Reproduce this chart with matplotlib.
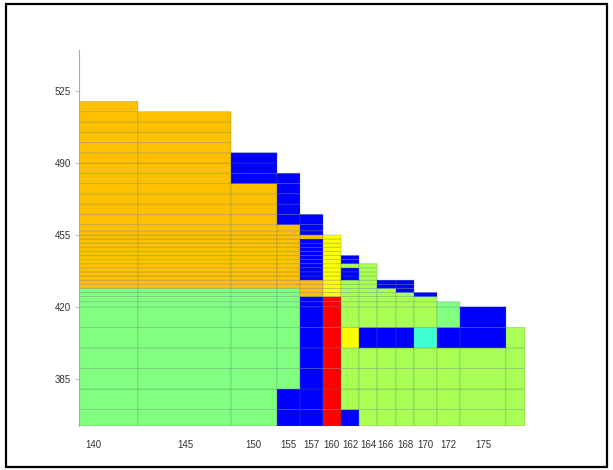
import matplotlib
matplotlib.use('Agg')
import matplotlib.pyplot as plt
import numpy as np
from matplotlib.colors import ListedColormap
from matplotlib.patches import Rectangle

# column edges (the x axis is not linear, so plain units are used) and labels
x_edges = [0, 59, 152, 198, 221, 244, 262, 280, 298, 317, 335, 358, 381, 427, 446]
x_ticks = [14, 106.5, 174, 209, 232, 252, 271, 289, 307, 326, 346.5, 369, 404]
x_labels = ['140', '145', '150', '155', '157', '160', '162', '164', '166', '168', '170', '172', '175']

y_edges = [362, 370, 380, 390, 400, 410, 420, 422.5, 425, 427, 429, 431, 433, 435, 437,
           439, 441, 443, 445, 447, 449, 451, 453, 455, 457, 460, 465, 470, 475, 480,
           485, 490, 495, 500, 505, 510, 515, 520]
y_ticks = [385, 420, 455, 490, 525]

# colour codes
BLUE, CYAN, GREEN, LIME, YELLOW, ORANGE, RED = range(7)
colors = ['#0000ff', '#40ffd0', '#80ff80', '#aaff55', '#ffff00', '#ffc000', '#ff0000']

# each column: list of (from, to, code)
col_140 = [(362, 429, GREEN), (429, 520, ORANGE)]
col_145 = [(362, 429, GREEN), (429, 515, ORANGE)]
col_150 = [(362, 429, GREEN), (429, 480, ORANGE), (480, 495, BLUE)]
col_155 = [(362, 380, BLUE), (380, 429, GREEN), (429, 460, ORANGE), (460, 485, BLUE)]
col_157 = [(362, 425, BLUE), (425, 433, ORANGE), (433, 453, BLUE), (453, 455, ORANGE), (455, 465, BLUE)]
col_160 = [(362, 425, RED), (425, 455, YELLOW)]
col_162 = [(362, 370, BLUE), (370, 400, LIME), (400, 410, YELLOW), (410, 433, LIME),
           (433, 439, BLUE), (439, 441, LIME), (441, 445, BLUE)]
col_164 = [(362, 400, LIME), (400, 410, BLUE), (410, 441, LIME)]
col_166 = [(362, 400, LIME), (400, 410, BLUE), (410, 429, LIME), (429, 433, BLUE)]
col_168 = [(362, 400, LIME), (400, 410, BLUE), (410, 427, LIME), (427, 433, BLUE)]
col_170 = [(362, 400, LIME), (400, 410, CYAN), (410, 425, LIME), (425, 427, BLUE)]
col_172 = [(362, 400, LIME), (400, 410, BLUE), (410, 422.5, GREEN)]
col_175 = [(362, 400, LIME), (400, 420, BLUE)]
col_177 = [(362, 410, LIME)]
columns = [col_140, col_145, col_150, col_155, col_157, col_160, col_162,
           col_164, col_166, col_168, col_170, col_172, col_175, col_177]

# build the cell table
C = np.full((len(y_edges) - 1, len(x_edges) - 1), np.nan)
for j, segs in enumerate(columns):
    for lo, hi, code in segs:
        for i in range(len(y_edges) - 1):
            if y_edges[i] >= lo and y_edges[i + 1] <= hi:
                C[i, j] = code
C = np.ma.masked_invalid(C)

fig = plt.figure(figsize=(6.13, 4.70), dpi=100)
ax = fig.add_axes([79 / 613, 1 - 426 / 470, 446 / 613, 376 / 470])

ax.pcolor(x_edges, y_edges, C, cmap=ListedColormap(colors), vmin=-0.5, vmax=6.5,
          edgecolors=(0.3, 0.45, 0.4, 0.3), linewidth=0.6)

ax.set_xlim(0, 446)
ax.set_ylim(362, 545)
ax.set_xticks(x_ticks)
ax.set_xticklabels(x_labels)
ax.set_yticks(y_ticks)
for s in ['top', 'right', 'bottom']:
    ax.spines[s].set_visible(False)
ax.spines['left'].set_color('#aaaaaa')
ax.spines['left'].set_linewidth(0.8)
ax.tick_params(axis='y', length=3, color='#bbbbbb', pad=3, labelsize=7,
               labelcolor='#333333')
ax.tick_params(axis='x', length=0, pad=10, labelsize=7, labelcolor='#333333')
for lab in ax.get_xticklabels() + ax.get_yticklabels():
    lab.set_family('Liberation Sans')

# black frame around the picture
fig.patches.append(Rectangle((6 / 613, 3 / 470), 601 / 613, 463 / 470,
                             transform=fig.transFigure, fill=False,
                             edgecolor='black', linewidth=1.6))

fig.savefig('out.png', dpi=100)
